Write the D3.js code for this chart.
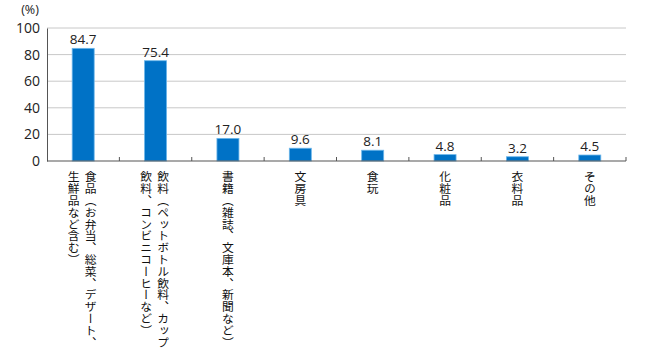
<!DOCTYPE html>
<html><head><meta charset="utf-8">
<script src="https://cdn.jsdelivr.net/npm/d3@7"></script>
<style>
body{margin:0;background:#fff;}
text{font-family:"Noto Sans CJK JP","Noto Sans",sans-serif;}
</style></head>
<body><svg id="c" width="650" height="360"></svg>
<script>
const categories = ["食品", "飲料", "書籍", "文房具", "食玩", "化粧品", "衣料品", "その他"];
const labelLines = [
  ["食品（お弁当、総菜、デザート、", "生鮮品など含む）"],
  ["飲料（ペットボトル飲料、カップ", "飲料、コンビニコーヒーなど）"],
  ["書籍（雑誌、文庫本、新聞など）"],
  ["文房具"],
  ["食玩"],
  ["化粧品"],
  ["衣料品"],
  ["その他"]
];
const values = [84.7, 75.4, 17.0, 9.6, 8.1, 4.8, 3.2, 4.5];
const yTicks = [0, 20, 40, 60, 80, 100];

const svg = d3.select("#c");
const m = {l: 47, r: 626, t: 28, b: 161};
const x = d3.scaleBand().domain(categories).range([m.l, m.r]).paddingInner(0).paddingOuter(0);
const y = d3.scaleLinear().domain([0, 100]).range([m.b, m.t]);

// grid
svg.append("g").selectAll("line").data(yTicks.filter(d => d > 0)).join("line")
  .attr("x1", m.l).attr("x2", m.r).attr("y1", d => y(d)).attr("y2", d => y(d))
  .attr("stroke", "#c8c8c8").attr("stroke-width", 1);

// y axis
const ya = svg.append("g").attr("transform", `translate(${m.l},0)`)
  .call(d3.axisLeft(y).tickValues(yTicks).tickSize(0).tickPadding(7));
ya.select(".domain").attr("stroke", "#555");
ya.selectAll("text").attr("font-size", 14).attr("fill", "#222")
  .style("font-family", "'Open Sans','Noto Sans',sans-serif");

svg.append("text").attr("x", 30).attr("y", 14).attr("text-anchor", "middle")
  .attr("font-size", 12.5).attr("fill", "#222")
  .style("font-family", "'Open Sans','Noto Sans',sans-serif").text("(%)");

// bars
const bw = 22;
svg.append("g").selectAll("rect").data(values).join("rect")
  .attr("x", (d, i) => x(categories[i]) + x.bandwidth() / 2 - bw / 2)
  .attr("width", bw)
  .attr("y", d => y(d))
  .attr("height", d => y(0) - y(d))
  .attr("fill", "#0072C6")
  .attr("stroke", "#6CB6EA").attr("stroke-width", 0.8);

// value labels
svg.append("g").selectAll("text").data(values).join("text")
  .attr("x", (d, i) => x(categories[i]) + x.bandwidth() / 2)
  .attr("y", d => y(d) - 4)
  .attr("text-anchor", "middle").attr("font-size", 13.5).attr("fill", "#222")
  .style("font-family", "'Open Sans','Noto Sans',sans-serif")
  .text(d => d.toFixed(1));

// x axis
svg.append("line").attr("x1", m.l).attr("x2", m.r).attr("y1", y(0)).attr("y2", y(0))
  .attr("stroke", "#555").attr("stroke-width", 1.2);
const bounds = categories.map(c => x(c)).slice(1).concat([m.r]);
svg.append("g").selectAll("line").data(bounds).join("line")
  .attr("x1", d => d).attr("x2", d => d).attr("y1", y(0)).attr("y2", y(0) - 4)
  .attr("stroke", "#555").attr("stroke-width", 1);

// category labels (vertical)
categories.forEach((c, i) => {
  const lines = labelLines[i];
  const n = lines.length;
  lines.forEach((ln, j) => {
    const cx = x(c) + x.bandwidth() / 2 - (j - (n - 1) / 2) * 17 - (n > 1 ? 1 : 0);
    svg.append("text")
      .attr("x", cx).attr("y", 171)
      .style("writing-mode", "vertical-rl")
      .attr("font-size", 11.8).attr("fill", "#111")
      .text(ln);
  });
});
</script></body></html>
